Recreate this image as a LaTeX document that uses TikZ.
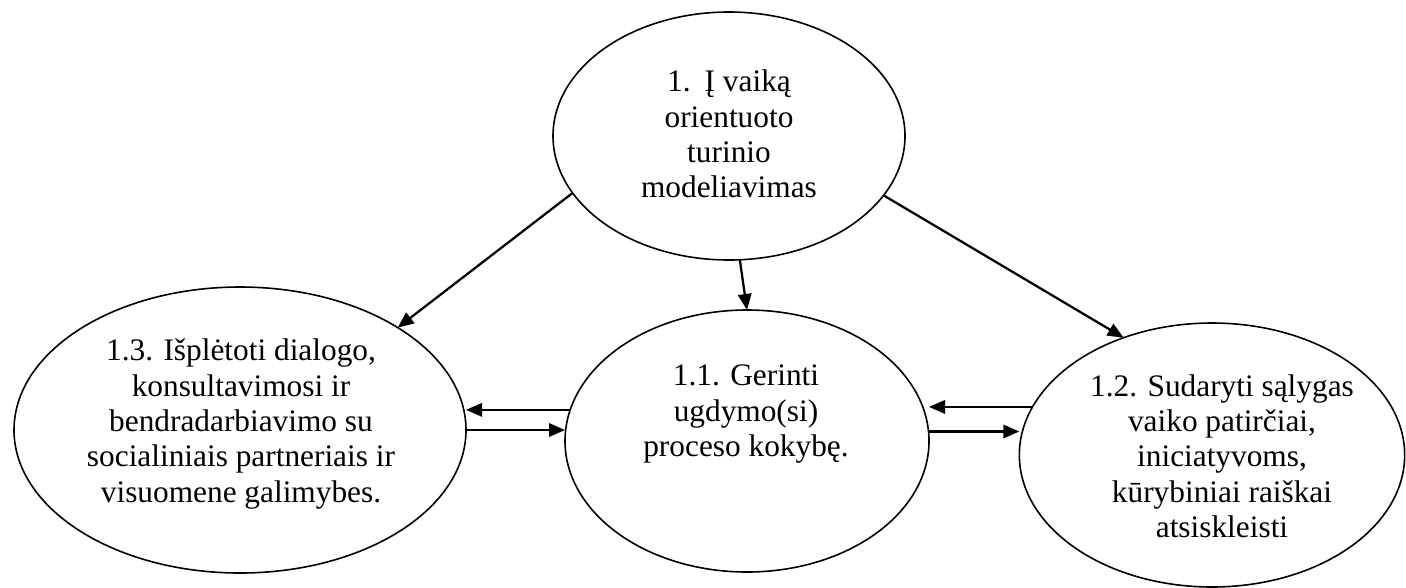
\documentclass[tikz,border=0pt]{standalone}
\usepackage{fontspec}
\setmainfont{Liberation Serif}
\usetikzlibrary{shapes.geometric,arrows.meta}
\begin{document}
\begin{tikzpicture}[x=0.75pt,y=-0.75pt,
  oval/.style={ellipse,draw,line width=1.2pt,inner sep=0pt,outer sep=0pt},
  lbl/.style={align=center,inner sep=0pt,font=\fontsize{23.5}{26.5}\selectfont},
  arr/.style={line width=1.7pt,-{Triangle[length=12pt,width=10pt]}}]
\useasboundingbox (0,0) rectangle (1406,587);
% ellipses
\node[oval,minimum width=264pt,minimum height=186pt] (T) at (729,136) {};
\node[oval,minimum width=273pt,minimum height=196.5pt] (M) at (747,441) {};
\node[oval,minimum width=339pt,minimum height=214.5pt] (L) at (240,430) {};
\node[oval,minimum width=289pt,minimum height=198pt] (R) at (1212,455) {};
% texts
\node[lbl] (tT) at (729,134) {1.\hspace{0.45em}Į vaiką\\orientuoto\\turinio\\modeliavimas};
\node[lbl] (tM) at (746,414) {1.1. Gerinti\\ugdymo(si)\\proceso kokybę.};
\node[lbl] (tL) at (241,424) {1.3. Išplėtoti dialogo,\\konsultavimosi ir\\bendradarbiavimo su\\socialiniais partneriais ir\\visuomene galimybes.};
\node[lbl] (tR) at (1222,456) {1.2. Sudaryti sąlygas\\vaiko patirčiai,\\iniciatyvoms,\\kūrybiniai raiškai\\atsiskleisti};
% connectors
\draw[arr] (T.200) -- (L.33);
\draw[arr] (T.-85) -- (M.north);
\draw[arr] (T.-21) -- (R.127);
\draw[arr] (M.170) -- (M.170 -| L.east);
\draw[arr] (L.east) -- (L.east -| M.west);
\draw[arr] (R.165) -- (R.165 -| M.east);
\draw[arr] (M.3) -- (M.3 -| R.west);
\end{tikzpicture}
\end{document}
